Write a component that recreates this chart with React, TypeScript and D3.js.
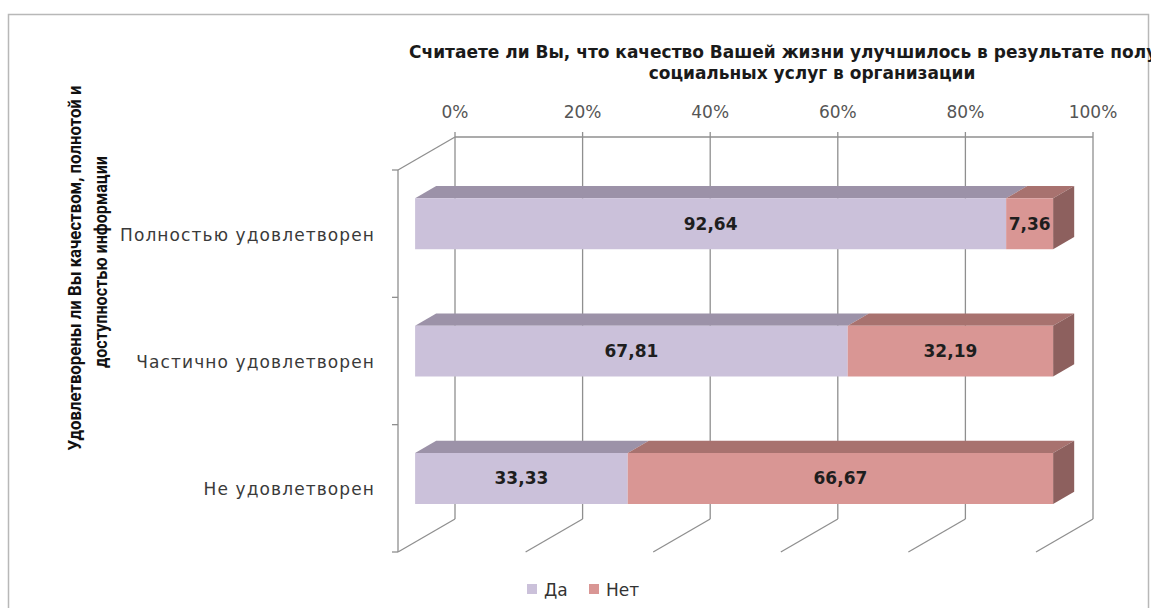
import React from 'react';
import * as d3 from 'd3';

const categories = ['Полностью удовлетворен', 'Частично удовлетворен', 'Не удовлетворен'];
const seriesNames = ['Да', 'Нет'];
const yesValues = [92.64, 67.81, 33.33];
const noValues = [7.36, 32.19, 66.67];
const tickValues = [0, 20, 40, 60, 80, 100];

const titleLines = [
  'Считаете ли Вы, что качество Вашей жизни улучшилось в результате получения',
  'социальных услуг в организации'
];
const yTitleLines = ['Удовлетворены ли Вы качеством, полнотой и', 'доступностью информации'];

const W = 1151;
const H = 608;

// 3D look: front plane origin and depth vector
const X0 = 398;
const DX = 57;
const DY = -33;
const Z_FRONT = 0.3;
const Z_BACK = 0.67;

const palette = {
  yes: { front: '#cbc1da', top: '#9c92a8', side: '#877e93' },
  no: { front: '#d99694', top: '#a8726f', side: '#8d605e' }
};
const gridColor = '#8f8f8f';
const font = '"DejaVu Sans", "Open Sans", sans-serif';

const xScale = d3.scaleLinear().domain([0, 100]).range([0, 638]);
const yBand = d3.scaleBand<string>()
  .domain(categories)
  .range([170, 552])
  .paddingInner(0.6)
  .paddingOuter(0.3);
const yEdges = d3.scaleLinear().domain([0, categories.length]).range([170, 552]);

const pt = (v: number, y: number, z: number): [number, number] => [
  X0 + xScale(v) + z * DX,
  y + z * DY
];
const poly = (pts: [number, number][]) => pts.map(p => p.join(',')).join(' ');
const fmt = (v: number) => v.toFixed(2).replace('.', ',');

export default function App() {
  const yTop = yBand.range()[0];
  const yBottom = yBand.range()[1];

  const bars = categories.map((c, i) => {
    const yt = (yBand(c) as number);
    const yb = yt + yBand.bandwidth();
    const segs = [
      { v0: 0, v1: yesValues[i], val: yesValues[i], col: palette.yes },
      { v0: yesValues[i], v1: yesValues[i] + noValues[i], val: noValues[i], col: palette.no }
    ];
    return { c, yt, yb, segs };
  });

  return (
    <svg
      width={W}
      height={H}
      style={{ position: 'absolute', left: 0, top: 0, background: '#fff' }}
      fontFamily={font}
    >
      <rect x={8.5} y={14.5} width={1140} height={640} fill="#fff" stroke="#b8b8b8" strokeWidth={1.5} />

      {/* title (the source picture clips the first line at its right edge) */}
      <g fontWeight="bold" fontSize={17} fill="#1a1a1a" textAnchor="middle">
        {titleLines.map((t, i) => (
          <text key={i} x={812} y={58 + i * 21}>{t}</text>
        ))}
      </g>

      {/* back wall: gridlines + top axis */}
      <g stroke={gridColor} strokeWidth={1.3} fill="none">
        {tickValues.map(v => {
          const a = pt(v, yTop, 1);
          const b = pt(v, yBottom, 1);
          const f = pt(v, yBottom, 0);
          return (
            <g key={v}>
              <line x1={a[0]} y1={a[1] - 5} x2={b[0]} y2={b[1]} />
              <line x1={b[0]} y1={b[1]} x2={f[0]} y2={f[1]} />
            </g>
          );
        })}
        <line x1={pt(0, yTop, 1)[0]} y1={pt(0, yTop, 1)[1]} x2={pt(100, yTop, 1)[0]} y2={pt(100, yTop, 1)[1]} />
        {/* side wall edge + front category axis */}
        <line x1={pt(0, yTop, 0)[0]} y1={pt(0, yTop, 0)[1]} x2={pt(0, yTop, 1)[0]} y2={pt(0, yTop, 1)[1]} />
        <line x1={pt(0, yTop, 0)[0]} y1={yTop} x2={pt(0, yBottom, 0)[0]} y2={yBottom} />
        {d3.range(categories.length + 1).map(k => (
          <line key={k} x1={X0 - 6} y1={yEdges(k)} x2={X0} y2={yEdges(k)} />
        ))}
      </g>

      {/* tick labels */}
      <g fontSize={17} fill="#555" textAnchor="middle">
        {tickValues.map(v => (
          <text key={v} x={pt(v, yTop, 1)[0]} y={118}>{v}%</text>
        ))}
      </g>

      {/* category labels */}
      <g fontSize={17} fill="#3a3a3a" textAnchor="end" letterSpacing={1.1}>
        {categories.map((c, i) => (
          <text key={c} x={375} y={(yEdges(i) + yEdges(i + 1)) / 2 + 7}>{c}</text>
        ))}
      </g>

      {/* bars */}
      {bars.map(b => (
        <g key={b.c}>
          {b.segs.map((s, j) => {
            const yt = b.yt;
            const yb = b.yb;
            const top = poly([pt(s.v0, yt, Z_FRONT), pt(s.v1, yt, Z_FRONT), pt(s.v1, yt, Z_BACK), pt(s.v0, yt, Z_BACK)]);
            const front = poly([pt(s.v0, yt, Z_FRONT), pt(s.v1, yt, Z_FRONT), pt(s.v1, yb, Z_FRONT), pt(s.v0, yb, Z_FRONT)]);
            const side = poly([pt(s.v1, yt, Z_FRONT), pt(s.v1, yt, Z_BACK), pt(s.v1, yb, Z_BACK), pt(s.v1, yb, Z_FRONT)]);
            const c = pt((s.v0 + s.v1) / 2, (yt + yb) / 2, Z_FRONT);
            return (
              <g key={j}>
                <polygon points={top} fill={s.col.top} />
                {j === b.segs.length - 1 && <polygon points={side} fill={s.col.side} />}
                <polygon points={front} fill={s.col.front} />
                <text x={c[0]} y={c[1] + 6} textAnchor="middle" fontSize={17} fontWeight="bold" fill="#1e1e1e">
                  {fmt(s.val)}
                </text>
              </g>
            );
          })}
        </g>
      ))}

      {/* y axis title */}
      <g fontWeight="bold" fontSize={19} fill="#111" textAnchor="middle"
        fontFamily='"Liberation Sans Narrow", "Roboto", sans-serif'>
        <text transform="translate(81,268) rotate(-90)" textLength={365} lengthAdjust="spacingAndGlyphs">{yTitleLines[0]}</text>
        <text transform="translate(107,262) rotate(-90)" textLength={212} lengthAdjust="spacingAndGlyphs">{yTitleLines[1]}</text>
      </g>

      {/* legend */}
      <g fontSize={17} fill="#333">
        {seriesNames.map((n, i) => {
          const x = [527, 589][i];
          return (
            <g key={n}>
              <rect x={x} y={584} width={10} height={10} fill={i === 0 ? palette.yes.front : palette.no.front} />
              <text x={x + 17} y={596}>{n}</text>
            </g>
          );
        })}
      </g>
    </svg>
  );
}
